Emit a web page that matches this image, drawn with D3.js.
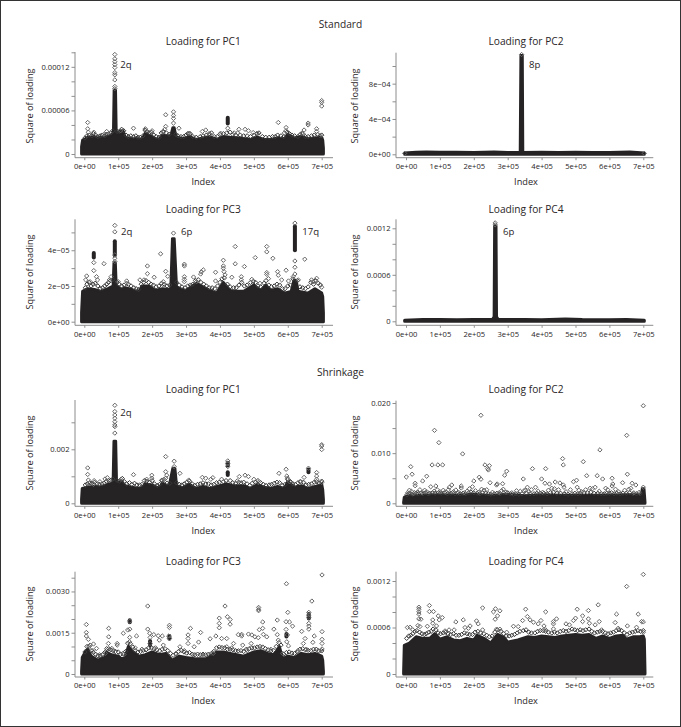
<!DOCTYPE html>
<html><head><meta charset="utf-8">
<script src="https://cdn.jsdelivr.net/npm/d3@7"></script>
<style>
html,body{margin:0;padding:0;background:#fff}
svg{display:block}
text{font-family:"Open Sans",sans-serif;fill:#2a2627}
</style></head><body><div id="chart"></div>
<script>
// Index values are in units of 1e5; each panel's loading values are in the unit given on its panel.
const xTicks=[0,1,2,3,4,5,6,7];
const xTickLabels=["0e+00","1e+05","2e+05","3e+05","4e+05","5e+05","6e+05","7e+05"];

// Standard PC1 (1e-5)
const stdPc1Band=[[-.08,1],[-.05,1.9],[0,2],[.1,2.3],[.2,2.3],[.3,2.4],[.4,2.2],[.5,2.3],[.6,2.3],[.7,2.4],[.8,2.6],[.86,3],[.88,8.8],[.92,8.8],[.94,3],[1,2.8],[1.05,3.2],[1.15,3.1],[1.2,2.3],[1.4,2.1],[1.6,2.1],[1.7,2],[1.8,2.9],[1.9,2.6],[2,2.4],[2.1,2.1],[2.2,2],[2.3,2.6],[2.4,2.5],[2.55,2.5],[2.61,3.6],[2.65,3.6],[2.7,2.4],[2.9,2.1],[3.1,2.4],[3.3,2],[3.5,2.2],[3.7,2.4],[3.9,2],[4.1,2.4],[4.3,2.3],[4.6,2.2],[4.9,2],[5.1,2.3],[5.3,2],[5.5,2],[5.7,2.2],[5.9,2.1],[6,2.7],[6.2,2.2],[6.4,2.4],[6.6,2.1],[6.8,2.2],[7,2.3],[7.03,1.9],[7.05,.8]];
const stdPc1Points=[[.1,4.34],[.1,3.47],[.12,3],[.9,13.7],[.9,13.1],[.9,12.7],[.9,12.3],[.9,11.9],[.9,11.2],[.9,10.9],[.9,10.2],[.9,9.3],[.9,9],[2.4,5.4],[2.4,3.8],[2.37,3.4],[2.63,5.8],[2.63,5.3],[2.63,4.9],[2.63,4.25],[2.79,3.55],[1.45,3.55],[4.23,3.55],[5.72,4.34],[5.95,3.65],[5.95,3.2],[6.6,4.25],[6.6,4],[6.85,3.47],[6.85,3.1],[7,7.35],[7,7.1],[7,6.6],[4.56,3.4],[4.74,3.4],[4.84,3.2],[3.48,3.1],[3.58,3.3],[3.7,2.7],[1.8,3.47],[2,3.2],[.28,3],[.66,3.1],[.58,2.7],[1.07,3.2],[3.09,2.86],[5.11,2.8],[6.48,3.3],[6.41,2.86],[4.98,2.95],[4.02,2.86],[1.81,3.2],[2.32,3],[4.42,2.9],[4.52,2.9],[5.9,2.9],[7,2.6]];
const stdPc1Fringe=[[.02,2.2],[.08,2.5],[.15,2.6],[.22,2.5],[.27,2.8],[.33,2.6],[.4,2.4],[.47,2.5],[.53,2.6],[.6,2.5],[.66,2.7],[.72,2.8],[.78,2.9],[.84,3.2],[.97,3.1],[1.03,3.1],[1.1,3.4],[1.16,3.2],[1.23,2.6],[1.3,2.4],[1.37,2.5],[1.45,2.4],[1.52,2.5],[1.58,2.3],[1.65,2.3],[1.73,2.5],[1.79,3.3],[1.85,3.1],[1.92,2.9],[1.98,3],[2.05,2.6],[2.12,2.4],[2.2,2.3],[2.27,2.9],[2.33,3.1],[2.42,2.9],[2.5,2.7],[2.7,2.7],[2.76,2.5],[2.85,2.4],[2.93,2.4],[3,2.6],[3.05,2.8],[3.12,2.8],[3.2,2.4],[3.3,2.3],[3.42,2.4],[3.5,2.5],[3.6,2.6],[3.68,2.8],[3.75,2.9],[3.83,2.4],[3.92,2.4],[4,2.7],[4.1,2.8],[4.2,2.9],[4.3,3],[4.38,2.7],[4.47,2.6],[4.6,2.6],[4.7,2.5],[4.8,2.5],[4.9,2.4],[5,2.6],[5.08,2.8],[5.15,2.9],[5.25,2.4],[5.35,2.3],[5.45,2.3],[5.55,2.4],[5.63,2.4],[5.7,2.6],[5.8,2.5],[5.88,2.4],[5.98,3],[6.05,2.8],[6.12,2.6],[6.2,2.5],[6.3,2.4],[6.37,2.7],[6.44,2.8],[6.52,2.4],[6.6,2.4],[6.7,2.5],[6.78,2.6],[6.88,2.7],[6.95,2.5],[7,2.6]];
const stdPc1Blobs=[[4.23,4.2,5]];

// Standard PC2 (1e-4)
const stdPc2Band=[[-.04,.15],[.3,.22],[.6,.25],[1,.22],[1.5,.22],[2,.2],[2.6,.25],[3,.2],[3.37,.2],[3.39,11.2],[3.43,11.2],[3.445,.2],[4,.22],[4.5,.2],[5,.22],[5.5,.2],[6,.2],[6.6,.25],[7.03,.15]];
const stdPc2Points=[[3.41,11.3],[-.04,.1],[7.03,.1]];
const stdPc2Fringe=[];
const stdPc2Blobs=[];

// Standard PC3 (1e-5)
const stdPc3Band=[[-.08,.5],[-.05,1.7],[.1,1.85],[.3,1.8],[.5,1.7],[.7,1.85],[.85,2],[.875,3.3],[.915,3.3],[.94,2],[1.1,1.8],[1.2,1.9],[1.4,1.8],[1.6,1.65],[1.7,2],[1.9,2],[2.1,1.75],[2.3,1.85],[2.55,1.8],[2.6,4.65],[2.65,4.65],[2.72,1.9],[3,1.75],[3.3,2.15],[3.5,1.95],[3.7,1.75],[3.9,1.6],[4,1.9],[4.1,2.2],[4.3,1.75],[4.5,1.7],[4.7,1.7],[5,2.05],[5.2,1.75],[5.35,2.05],[5.5,1.75],[5.7,1.85],[5.9,1.6],[6.1,1.7],[6.18,2.3],[6.25,2.3],[6.3,1.7],[6.6,1.6],[6.8,1.85],[7,1.6],[7.03,1.4],[7.05,.5]];
const stdPc3Points=[[.9,5.39],[.9,5.03],[.9,3.74],[.9,3.55],[.9,3.37],[.28,3.31],[.28,2.86],[.58,3.25],[.07,2.56],[.04,2.34],[.17,2.24],[.36,2.52],[.39,2.34],[.79,2.52],[.74,2.34],[1,2.24],[1.25,2.28],[1.25,2.15],[1.64,2.34],[1.76,2.34],[1.86,3.12],[1.86,2.69],[2.06,2.49],[2.25,3.8],[2.4,2.82],[2.46,2.54],[2.33,2.24],[2.33,2.06],[2.63,4.96],[2.95,3.22],[2.95,3.12],[2.95,2.52],[2.95,2.37],[2.95,2.24],[3.22,2.5],[3.51,2.9],[3.45,2.79],[3.43,2.67],[3.31,2.24],[3.87,2.77],[3.87,2.28],[4.1,3.44],[4.1,3.12],[4.1,2.99],[4.12,2.8],[4.15,2.62],[4.35,2.49],[4.45,4.21],[4.45,3.24],[4.72,3.09],[4.63,2.52],[4.63,2.34],[4.94,2.37],[5.04,3.59],[5.18,2.15],[5.38,4.21],[5.38,3.91],[5.38,2.75],[5.38,2.65],[5.43,2.41],[5.56,3.55],[5.7,2.8],[5.72,2.6],[5.82,2.34],[5.95,2.88],[6.02,2.28],[6.21,5.52],[6.21,3.4],[6.21,3.05],[6.21,2.67],[6.16,2.52],[6.31,2.34],[6.5,3.5],[6.7,2.34],[6.85,2.43],[7,1.93],[6.75,2.24],[6.95,2.06]];
const stdPc3Fringe=[[.03,1.9],[.08,2.1],[.14,2.2],[.2,2],[.26,2.1],[.32,2.15],[.4,2],[.47,1.85],[.54,1.9],[.6,2],[.66,2.1],[.71,2.2],[.78,2.3],[.84,2.35],[.97,2.2],[1.03,2.1],[1.1,2],[1.17,2.05],[1.3,2.1],[1.38,2],[1.46,1.9],[1.53,1.85],[1.6,1.8],[1.68,2.1],[1.75,2.2],[1.82,2.3],[1.9,2.2],[1.97,2.1],[2.04,2.05],[2.12,1.95],[2.2,2],[2.28,2.15],[2.36,2.1],[2.44,2],[2.52,2.05],[2.72,2.2],[2.8,2.05],[2.88,1.95],[2.97,1.9],[3.05,2],[3.13,2.05],[3.2,2.1],[3.28,2.3],[3.36,2.35],[3.44,2.2],[3.52,2.1],[3.6,2],[3.68,1.9],[3.77,1.9],[3.85,1.85],[3.93,2],[4,2.2],[4.06,2.4],[4.13,2.45],[4.22,2.1],[4.3,1.95],[4.4,1.9],[4.48,1.9],[4.56,2.05],[4.64,2.2],[4.72,2],[4.8,2.05],[4.9,2.2],[4.98,2.25],[5.05,2.2],[5.12,2],[5.2,1.95],[5.3,2.15],[5.36,2.3],[5.44,2.05],[5.52,1.95],[5.6,2],[5.68,2.1],[5.76,2.05],[5.84,1.85],[5.92,1.85],[6,2],[6.08,2.05],[6.15,2.4],[6.28,2.3],[6.36,1.95],[6.44,1.9],[6.52,1.85],[6.6,1.95],[6.68,2.2],[6.76,2.1],[6.82,2.3],[6.9,2.15],[6.96,2.05]];
const stdPc3Blobs=[[.28,3.6,3.85],[.9,3.7,4.5],[6.21,4,5.35]];

// Standard PC4 (1e-4)
const stdPc4Band=[[-.04,.15],[.5,.22],[1,.22],[1.5,.2],[2,.22],[2.55,.22],[2.6,.6],[2.615,12.3],[2.655,12.3],[2.67,.6],[2.72,.22],[3.5,.22],[4,.2],[4.7,.3],[5.2,.22],[6,.2],[6.5,.22],[7.03,.15]];
const stdPc4Points=[[2.63,12.7],[2.63,12.45]];
const stdPc4Fringe=[];
const stdPc4Blobs=[];

// Shrinkage PC1 (1e-3)
const shrPc1Band=[[-.08,.15],[-.06,.55],[.1,.6],[.3,.62],[.5,.6],[.7,.7],[.85,.75],[.875,2.3],[.925,2.3],[.95,.75],[1.1,.82],[1.2,.65],[1.4,.6],[1.6,.55],[1.7,.58],[1.8,.72],[2,.68],[2.2,.55],[2.3,.75],[2.5,.62],[2.61,1.3],[2.67,1.3],[2.72,.65],[2.9,.58],[3.1,.7],[3.3,.55],[3.5,.62],[3.7,.55],[4,.65],[4.2,.72],[4.4,.65],[4.7,.65],[4.9,.55],[5.1,.7],[5.3,.6],[5.5,.55],[5.7,.62],[5.9,.55],[6,.8],[6.2,.6],[6.4,.65],[6.6,.55],[6.8,.62],[7,.7],[7.03,.5],[7.05,.15]];
const shrPc1Points=[[.9,3.63],[.9,3.4],[.9,3.27],[.9,3.15],[.9,3.02],[.9,2.9],[.9,2.84],[.9,2.6],[.1,1.31],[.1,1.07],[.12,.86],[.29,.84],[.27,.7],[.68,.95],[.61,.9],[.46,.8],[1.45,1.06],[1.08,.89],[1.84,.89],[1.99,1.04],[1.99,.93],[2.4,1.73],[2.4,1.17],[2.43,1.04],[2.4,.93],[2.3,.86],[2.65,1.56],[2.65,1.36],[2.82,1.11],[3.08,.86],[3.48,.96],[3.58,.93],[3.73,.89],[3.79,.95],[4.05,.89],[4.23,1.57],[4.23,1.48],[4.23,1.36],[4.51,.83],[4.57,.99],[4.74,1.04],[4.84,.99],[5,.89],[5.13,.77],[5.74,1.11],[5.95,1.26],[5.97,1.01],[5.99,.93],[6.05,.8],[6.36,.8],[6.48,.96],[6.61,1.3],[6.85,1.14],[6.85,1.01],[6.85,.89],[7,2.17],[7,2.12],[7,1.99],[7,.77]];
const shrPc1Fringe=[[.03,.68],[.09,.72],[.16,.76],[.22,.74],[.3,.78],[.38,.72],[.44,.7],[.52,.72],[.58,.74],[.65,.82],[.72,.84],[.78,.85],[.84,.9],[.97,.85],[1.04,.82],[1.12,.92],[1.18,.8],[1.25,.72],[1.33,.76],[1.4,.7],[1.48,.74],[1.55,.68],[1.63,.68],[1.7,.7],[1.77,.84],[1.84,.82],[1.92,.78],[2,.84],[2.07,.72],[2.15,.66],[2.22,.7],[2.28,.85],[2.35,.88],[2.44,.75],[2.52,.74],[2.72,.76],[2.8,.7],[2.88,.68],[2.95,.72],[3.02,.78],[3.1,.82],[3.18,.72],[3.26,.66],[3.34,.7],[3.42,.72],[3.5,.76],[3.58,.72],[3.66,.72],[3.74,.68],[3.82,.7],[3.9,.76],[3.98,.78],[4.1,.8],[4.18,.84],[4.3,.84],[4.38,.76],[4.46,.74],[4.55,.78],[4.62,.76],[4.7,.78],[4.8,.72],[4.88,.66],[4.95,.74],[5.05,.78],[5.12,.84],[5.2,.76],[5.28,.7],[5.36,.66],[5.45,.68],[5.52,.7],[5.6,.74],[5.68,.78],[5.76,.76],[5.84,.66],[5.92,.7],[6,.88],[6.08,.8],[6.15,.72],[6.22,.7],[6.3,.76],[6.38,.8],[6.46,.78],[6.54,.68],[6.62,.7],[6.7,.72],[6.78,.78],[6.85,.8],[6.92,.76],[7,.82]];
const shrPc1Blobs=[[4.23,1.05,1.15],[4.23,1.4,1.5],[6.61,1.15,1.25]];

// Shrinkage PC2 (1e-3)
const shrPc2Band=[[-.07,.2],[-.05,1.2],[0,1.4],[.5,1.6],[1,1.7],[1.5,1.6],[2,1.8],[2.5,1.5],[3,1.8],[3.5,1.5],[4,1.7],[4.5,1.6],[5,1.6],[5.5,1.6],[6,1.6],[6.5,1.7],[6.95,1.7],[6.97,2.9],[7.02,2.9],[7.05,.2]];
const shrPc2Points=[[.01,5.25],[.14,7.3],[.18,5.8],[.27,4],[.27,3.5],[.49,4.45],[.61,5.4],[.77,7.65],[.84,14.55],[.97,12.1],[.94,7.65],[1.08,7.65],[.88,3.45],[.73,3.3],[1.35,3.65],[1.28,3.2],[1.47,2.65],[1.63,3.45],[1.63,3.05],[1.67,9.85],[1.87,2.9],[1.96,3.3],[2,4.45],[2.16,5.2],[2.21,4.8],[2.21,17.55],[2.33,7.65],[2.46,7.5],[2.41,6.9],[2.43,6.65],[2.48,4.1],[2.23,2.8],[2.67,3.65],[2.69,3.85],[2.85,3.9],[2.87,2.8],[2.91,5.6],[2.97,6.4],[3.26,2.5],[3.46,4.85],[3.48,2.5],[3.58,3.2],[3.73,6.9],[3.82,3.2],[4,4.85],[4.12,6.9],[4.1,4],[4.23,3.85],[4.4,4.25],[4.54,4.05],[4.62,8.9],[4.64,7.65],[4.64,3.65],[4.66,3.2],[4.94,4.3],[5.03,4.6],[5.05,3.2],[5.23,8.3],[5.33,5.5],[5.43,3],[5.64,5.5],[5.58,3.2],[5.72,10.65],[5.8,4.85],[5.89,3],[6.08,5],[6.1,3.85],[6.08,3.45],[6.39,4.1],[6.51,13.55],[6.53,5.8],[6.67,4],[6.78,3.65],[6.63,3],[7,19.45],[.05,2.1],[.1,2.6],[.16,2.4],[.22,1.9],[.33,2.2],[.41,2.7],[.47,2.1],[.55,2.6],[.62,2.3],[.83,2.4],[.92,2.7],[1,2.3],[1.1,2.6],[1.18,2.2],[1.25,2.7],[1.4,2.3],[1.55,2.2],[1.72,2.1],[1.8,2.4],[2.05,2.5],[2.15,2.2],[2.3,2.6],[2.38,2.7],[2.55,2.2],[2.75,2.1],[2.82,2.5],[2.95,2.2],[3.12,2.1],[3.37,2.4],[3.52,2.6],[3.62,2.3],[3.7,2.7],[3.9,2.4],[4.03,2.2],[4.2,2.6],[4.3,3],[4.38,2.9],[4.5,2.7],[4.72,2.3],[4.85,2.7],[5.1,2.6],[5.18,2.3],[5.3,2.7],[5.5,2.9],[5.7,2.4],[5.95,2.7],[6.18,2.8],[6.28,2.3],[6.45,2.6],[6.57,2.8],[6.72,2.1],[6.88,2.2],[7,3.2]];
const shrPc2Fringe=[[.03,1.7],[.08,1.9],[.13,2],[.19,1.8],[.25,2.1],[.3,2],[.36,1.9],[.44,2],[.5,1.9],[.57,2.1],[.65,1.9],[.7,2],[.78,2.1],[.86,2],[.96,2.1],[1.04,2],[1.13,2.1],[1.22,1.9],[1.32,2],[1.37,2.1],[1.45,1.9],[1.52,2],[1.6,1.9],[1.68,2],[1.76,1.9],[1.85,2.1],[1.92,2.2],[2,2.1],[2.1,2],[2.18,1.9],[2.26,2.1],[2.35,2],[2.43,1.9],[2.5,1.8],[2.6,1.9],[2.68,2],[2.78,1.9],[2.88,2.1],[3,2.1],[3.08,1.9],[3.17,1.8],[3.24,1.9],[3.33,1.8],[3.42,1.9],[3.56,2],[3.66,1.9],[3.78,1.9],[3.86,2],[3.96,2],[4.07,2],[4.16,1.9],[4.26,2.1],[4.35,2.2],[4.45,2],[4.56,2],[4.68,1.9],[4.78,1.8],[4.9,1.9],[4.98,2],[5.07,1.9],[5.15,2],[5.25,2.1],[5.35,2.1],[5.45,2.2],[5.55,2],[5.66,2],[5.76,1.9],[5.85,1.9],[5.92,2],[6,2],[6.06,2.1],[6.14,1.9],[6.22,2],[6.32,1.9],[6.4,2],[6.5,2],[6.6,2.1],[6.7,1.9],[6.8,1.9],[6.9,1.9]];
const shrPc2Blobs=[];

// Shrinkage PC3 (1e-3)
const shrPc3Band=[[-.08,.1],[-.06,.6],[.05,.85],[.1,.9],[.2,.65],[.4,.5],[.6,.6],[.65,.8],[.8,.7],[1,.65],[1.1,.55],[1.2,.6],[1.3,1],[1.4,.85],[1.6,.65],[1.8,.7],[2,.8],[2.2,.7],[2.4,.75],[2.6,.5],[2.8,.65],[3,.6],[3.3,.55],[3.6,.55],[3.9,.8],[4.1,.8],[4.3,.75],[4.5,.7],[4.7,.65],[5,.8],[5.2,.85],[5.4,.75],[5.6,.7],[5.75,1],[5.85,.55],[6,.65],[6.2,.6],[6.4,.75],[6.6,.7],[6.8,.75],[7,.65],[7.03,.5],[7.05,.1]];
const shrPc3Points=[[.06,1.8],[.06,1.51],[.06,1.38],[.12,1.26],[.17,1.05],[.27,1.09],[.36,.93],[.72,1.66],[.72,1.35],[.71,1.11],[.81,.93],[.97,1.11],[.97,1.05],[1.15,1.48],[1.28,1.6],[1.34,1.92],[1.34,1.63],[1.34,1.33],[1.33,1.17],[1.17,.71],[1.54,1.38],[1.87,2.47],[1.87,1.63],[1.93,1.48],[1.94,1.33],[1.94,1.11],[2.05,1.43],[2.18,1.39],[2.3,1.38],[2.21,1.23],[2.33,1.05],[2.51,1.77],[2.51,1.69],[2.49,1.38],[2.51,1.29],[2.82,.99],[3.06,1.42],[3.06,1.29],[3.06,1.11],[3.13,1.66],[3.37,1.16],[3.43,1.51],[3.24,.99],[3.71,1.28],[3.88,1.38],[3.98,2.03],[3.98,1.84],[3.98,1.68],[4.15,2.47],[4.22,2.08],[4.3,1.98],[4.3,1.81],[4.05,1.29],[4.2,1.29],[4.2,.99],[4.4,1.11],[4.54,1.43],[4.64,1.44],[4.64,1.38],[4.67,1.05],[4.84,1.45],[4.94,1.42],[4.92,1.11],[5.03,1.35],[5.13,1.32],[5.14,2.42],[5.14,2.35],[5.14,2.3],[5.16,1.61],[5.26,1.89],[5.26,1.66],[5.28,1.44],[5.38,1.35],[5.59,1.63],[5.69,1.96],[5.69,1.43],[5.72,1.23],[5.96,3.28],[6,2.24],[5.95,1.9],[6.05,1.89],[6.14,1.74],[5.95,1.62],[5.99,1.42],[5.97,1.17],[6.02,1.02],[6.41,1.55],[6.51,1.29],[6.46,1.11],[6.62,2.24],[6.62,2.14],[6.62,2.06],[6.62,1.84],[6.62,1.74],[6.62,1.63],[6.71,2.65],[6.78,1.38],[6.74,1.15],[7.01,3.6],[7.01,1.54],[7.01,1.26],[7.01,1.11],[7.01,.91],[.25,.85],[.45,.7],[.62,.75],[.9,.8],[1.5,.95],[1.7,.9],[2.1,.95],[2.7,.75],[2.95,.85],[3.2,.7],[3.5,.68],[3.8,.75],[4.35,.95],[4.8,.85],[5.5,.9],[5.85,.75],[6.3,.85],[6.55,.9],[6.9,.85]];
const shrPc3Fringe=[[.02,.8],[.08,1],[.14,1],[.2,.85],[.27,.78],[.33,.72],[.4,.66],[.47,.66],[.54,.7],[.6,.78],[.66,.92],[.72,.92],[.78,.88],[.85,.85],[.92,.82],[1,.8],[1.07,.72],[1.14,.74],[1.22,.82],[1.28,1.12],[1.36,1.1],[1.43,.98],[1.5,.85],[1.58,.8],[1.66,.82],[1.74,.86],[1.82,.88],[1.9,.95],[1.98,.95],[2.06,.92],[2.14,.88],[2.22,.84],[2.3,.9],[2.38,.92],[2.46,.85],[2.54,.75],[2.62,.68],[2.7,.72],[2.78,.82],[2.86,.86],[2.94,.8],[3.02,.76],[3.1,.78],[3.18,.72],[3.26,.7],[3.34,.72],[3.42,.7],[3.5,.72],[3.58,.7],[3.66,.72],[3.74,.74],[3.82,.82],[3.9,.95],[3.98,.98],[4.06,.96],[4.14,.95],[4.22,.9],[4.3,.9],[4.38,.88],[4.46,.85],[4.54,.84],[4.62,.85],[4.7,.82],[4.78,.9],[4.86,.92],[4.94,.95],[5.02,.95],[5.1,.98],[5.18,1],[5.26,.98],[5.34,.92],[5.42,.88],[5.5,.84],[5.58,.86],[5.66,1],[5.74,1.14],[5.8,1.05],[5.88,.72],[5.96,.78],[6.04,.8],[6.12,.76],[6.2,.75],[6.28,.8],[6.36,.9],[6.44,.92],[6.52,.88],[6.6,.86],[6.68,.85],[6.76,.9],[6.84,.9],[6.92,.82],[7,.84]];
const shrPc3Blobs=[[1.34,1.88,1.95],[1.94,1.05,1.2],[2.51,1.28,1.38],[5.96,1.36,1.45],[6.62,2.02,2.18]];

// Shrinkage PC4 (1e-4)
const shrPc4Band=[[-.07,.3],[-.05,3.7],[.1,4],[.3,4.8],[.5,4.6],[.7,4.6],[.85,5.2],[1,4.5],[1.2,4.8],[1.4,4.4],[1.6,4.3],[1.8,4.6],[2,4.4],[2.1,5],[2.3,4.6],[2.5,4],[2.7,5.1],[2.9,4.7],[3,4.1],[3.3,4.4],[3.6,4.8],[3.8,4.7],[4,4.9],[4.2,4.8],[4.4,4.7],[4.6,4.9],[5,5.1],[5.2,5],[5.4,5.1],[5.6,4.6],[5.8,4.9],[6,4.6],[6.2,4.9],[6.4,5],[6.5,4.5],[6.7,4.8],[6.9,4.8],[7,4.9],[7.03,4.5],[7.05,.3]];
const shrPc4Points=[[.04,6],[.12,6.03],[.2,5.7],[.38,8.62],[.38,8.36],[.38,8.02],[.38,7.72],[.38,7.11],[.44,7.07],[.35,6.25],[.41,6.12],[.63,6.16],[.69,8.84],[.69,8.06],[.81,8.06],[.79,6.98],[.79,6.55],[.95,7.5],[.98,6.98],[1.07,7.28],[.9,6.2],[1.15,5.56],[1.27,5.69],[1.42,5.69],[1.47,6.72],[1.69,6.98],[1.74,6],[1.84,5.9],[1.89,6.2],[2.08,6.85],[2.13,6.47],[2.26,8.53],[2.26,5.69],[2.58,8.02],[2.64,8.41],[2.77,8.15],[2.7,7.5],[2.63,7.07],[2.67,5.78],[2.77,5.78],[2.97,5.39],[3.17,6.16],[3.31,6.12],[3.44,6.9],[3.53,8.36],[3.58,7.41],[3.66,6.98],[3.76,6.68],[3.9,6.47],[3.98,6.9],[4.07,6.2],[4.12,8.02],[4.12,5.69],[4.35,6.77],[4.35,6.47],[4.35,5.82],[4.44,7.11],[4.72,6.47],[4.82,6.34],[4.94,6.9],[5,7.2],[5.05,8.36],[5.21,7.5],[5.21,6.77],[5.38,8.19],[5.38,7.11],[5.41,6.55],[5.58,6.34],[5.67,8.92],[5.7,6.77],[5.77,5.69],[6.17,6.64],[6.21,7.72],[6.26,5.9],[6.51,11.3],[6.53,6.2],[6.85,7.72],[6.8,6.03],[6.95,6.77],[7,12.85],[7,6.72],[7,5.39]];
const shrPc4Fringe=[[.02,4.6],[.08,4.9],[.14,5],[.2,5.2],[.26,5.5],[.32,5.6],[.4,5.4],[.47,5.2],[.54,5.1],[.6,5.2],[.67,5.4],[.74,5.5],[.8,5.8],[.88,5.7],[.95,5.3],[1.02,5.2],[1.1,5.3],[1.17,5.4],[1.24,5.2],[1.32,5.1],[1.4,5.2],[1.48,5],[1.56,5],[1.64,5.1],[1.72,5.3],[1.8,5.2],[1.88,5.1],[1.96,5.1],[2.04,5.4],[2.12,5.5],[2.2,5.3],[2.3,5.2],[2.38,5],[2.46,4.8],[2.54,4.9],[2.62,5.4],[2.7,5.7],[2.8,5.5],[2.88,5.2],[2.96,4.9],[3.04,4.9],[3.12,5],[3.2,5.1],[3.28,5.3],[3.36,5.5],[3.46,5.6],[3.54,5.7],[3.62,5.4],[3.7,5.3],[3.8,5.3],[3.88,5.5],[3.96,5.6],[4.04,5.6],[4.12,5.5],[4.2,5.4],[4.3,5.3],[4.38,5.4],[4.46,5.3],[4.55,5.5],[4.64,5.6],[4.72,5.5],[4.8,5.6],[4.9,5.8],[4.98,5.7],[5.06,5.6],[5.14,5.7],[5.22,5.6],[5.3,5.7],[5.4,5.8],[5.48,5.5],[5.56,5.3],[5.64,5.4],[5.72,5.5],[5.8,5.5],[5.88,5.3],[5.96,5.2],[6.04,5.3],[6.12,5.4],[6.2,5.6],[6.28,5.7],[6.36,5.6],[6.44,5.3],[6.52,5.1],[6.6,5.3],[6.68,5.4],[6.76,5.5],[6.84,5.6],[6.92,5.5],[7,5.6]];
const shrPc4Blobs=[];

const yTicksThousandth=[0,1,2,3];
const layout=[
 {title:"Loading for PC1",band:stdPc1Band,points:stdPc1Points,fringe:stdPc1Fringe,blobs:stdPc1Blobs,ticks:[0,2,4,6,8,10,12,14],labels:{0:"0",6:"0.00006",12:"0.00012"},col:0,y0:154,yTop:52.3,top:52,base:157.7,titleY:42.7,ylabY:106,index:true,notes:[["2q",126,65]]},
 {title:"Loading for PC2",band:stdPc2Band,points:stdPc2Points,fringe:stdPc2Fringe,blobs:stdPc2Blobs,ticks:[0,2,4,6,8,10],labels:{0:"0e+00",4:"4e\u221204",8:"8e\u221204"},col:1,y0:154.3,yTop:66,top:52.7,base:157.7,titleY:42.7,ylabY:106,index:true,notes:[["8p",534.7,65]]},
 {title:"Loading for PC3",band:stdPc3Band,points:stdPc3Points,fringe:stdPc3Fringe,blobs:stdPc3Blobs,ticks:[0,1,2,3,4,5],labels:{0:"0e+00",2:"2e\u221205",4:"4e\u221205"},col:0,y0:321.7,yTop:232.4,top:219.3,base:325.3,titleY:210,ylabY:272,index:false,notes:[["2q",126.7,232.7],["6p",186.7,232.7],["17q",310.7,232.7]]},
 {title:"Loading for PC4",band:stdPc4Band,points:stdPc4Points,fringe:stdPc4Fringe,blobs:stdPc4Blobs,ticks:[0,2,4,6,8,10,12],labels:{0:"0",6:"0.0006",12:"0.0012"},col:1,y0:321.3,yTop:228.3,top:219.3,base:325.3,titleY:210,ylabY:272,index:false,notes:[["6p",508.7,232.7]]},
 {title:"Loading for PC1",band:shrPc1Band,points:shrPc1Points,fringe:shrPc1Fringe,blobs:shrPc1Blobs,ticks:yTicksThousandth,labels:{0:"0",2:"0.002"},col:0,y0:503.3,yTop:422.3,top:400,base:506.3,titleY:390.7,ylabY:453,index:true,notes:[["2q",126,413.3]]},
 {title:"Loading for PC2",band:shrPc2Band,points:shrPc2Points,fringe:shrPc2Fringe,blobs:shrPc2Blobs,ticks:[0,5,10,15,20],labels:{0:"0",10:"0.010",20:"0.020"},col:1,y0:503.3,yTop:403,top:400.7,base:506.3,titleY:390.7,ylabY:453,index:true,notes:[]},
 {title:"Loading for PC3",band:shrPc3Band,points:shrPc3Points,fringe:shrPc3Fringe,blobs:shrPc3Blobs,ticks:[0,.5,1,1.5,2,2.5,3,3.5],labels:{0:"0",1.5:"0.0015",3:"0.0030"},col:0,y0:674,yTop:577.7,top:571.7,base:677,titleY:562.3,ylabY:624,index:true,notes:[]},
 {title:"Loading for PC4",band:shrPc4Band,points:shrPc4Points,fringe:shrPc4Fringe,blobs:shrPc4Blobs,ticks:[0,2,4,6,8,10,12],labels:{0:"0",6:"0.0006",12:"0.0012"},col:1,y0:674,yTop:581,top:571.7,base:677,titleY:562.3,ylabY:624,index:true,notes:[]}
];
const cols=[{axisX:75,x0:84.3,x7:321.7,xEnd:333,titleX:203.3,ylabX:30.7},{axisX:396,x0:406,x7:643.3,xEnd:653.3,titleX:526,ylabX:355.3}];
const sections=[["Standard",340.5,25],["Shrinkage",340.5,373]];

const ink="#262324", W=681, H=727;
const svg=d3.select("#chart").append("svg").attr("width",W).attr("height",H);
svg.append("rect").attr("x",.5).attr("y",.5).attr("width",W-1).attr("height",H-1).attr("fill","none").attr("stroke","#333").attr("stroke-width",1);
sections.forEach(([t,x,y])=>svg.append("text").attr("x",x).attr("y",y).attr("text-anchor","middle").attr("dominant-baseline","middle").attr("font-size",10.2).text(t));

const diamond=d3.symbol().type(d3.symbolDiamond2).size(12)();
layout.forEach(p=>{
  const c=cols[p.col], g=svg.append("g");
  const x=d3.scaleLinear().domain([0,7]).range([c.x0,c.x7]);
  const last=p.ticks[p.ticks.length-1];
  const y=d3.scaleLinear().domain([0,last]).range([p.y0,p.yTop]);
  // marks
  const area=d3.area().x(d=>x(d[0])).y0(y(0)).y1(d=>y(d[1]));
  g.append("path").datum(p.band).attr("d",area).attr("fill",ink).attr("stroke",ink).attr("stroke-width",3).attr("stroke-linejoin","round");
  g.selectAll(".fr").data(p.fringe).join("path").attr("d",diamond)
    .attr("transform",d=>`translate(${x(d[0])},${y(d[1])})`)
    .attr("fill","none").attr("stroke","#3a3a3a").attr("stroke-width",1);
  g.selectAll(".blob").data(p.blobs).join("line")
    .attr("x1",d=>x(d[0])).attr("x2",d=>x(d[0])).attr("y1",d=>y(d[1])).attr("y2",d=>y(d[2]))
    .attr("stroke",ink).attr("stroke-width",4).attr("stroke-linecap","round");
  g.selectAll(".pt").data(p.points).join("path").attr("d",diamond)
    .attr("transform",d=>`translate(${x(d[0])},${y(d[1])})`)
    .attr("fill","none").attr("stroke","#666").attr("stroke-width",1);
  // axes
  const ax=d3.axisBottom(x).tickValues(xTicks).tickFormat((d,i)=>xTickLabels[i]).tickSize(2.5).tickPadding(3.5);
  const gx=svg.append("g").attr("transform",`translate(0,${p.base})`).call(ax);
  gx.select(".domain").remove();
  const ay=d3.axisLeft(y).tickValues(p.ticks).tickFormat(d=>p.labels[d]||"").tickSize(3.5).tickPadding(2);
  const gy=svg.append("g").attr("transform",`translate(${c.axisX},0)`).call(ay);
  gy.select(".domain").remove();
  [gx,gy].forEach(a=>{a.selectAll("text").attr("font-size",7.6).attr("fill","#2a2627").style("font-family",'"Open Sans",sans-serif');a.selectAll("line").attr("stroke","#444").attr("stroke-width",.6);});
  svg.append("line").attr("x1",c.axisX).attr("x2",c.xEnd).attr("y1",p.base).attr("y2",p.base).attr("stroke","#8c8c8c").attr("stroke-width",1);
  svg.append("line").attr("x1",c.axisX).attr("x2",c.axisX).attr("y1",p.top).attr("y2",p.base).attr("stroke","#8c8c8c").attr("stroke-width",1);
  // titles and labels
  svg.append("text").attr("x",c.titleX).attr("y",p.titleY).attr("text-anchor","middle").attr("dominant-baseline","middle").attr("font-size",10.2).text(p.title);
  svg.append("text").attr("transform",`translate(${c.ylabX},${p.ylabY}) rotate(-90)`).attr("text-anchor","middle").attr("dominant-baseline","middle").attr("font-size",9.2).text("Square of loading");
  if(p.index) svg.append("text").attr("x",c.titleX).attr("y",p.base+25).attr("text-anchor","middle").attr("dominant-baseline","middle").attr("font-size",9.2).text("Index");
  p.notes.forEach(([t,nx,ny])=>svg.append("text").attr("x",nx).attr("y",ny).attr("text-anchor","middle").attr("dominant-baseline","middle").attr("font-size",9.6).text(t));
});
</script></body></html>
